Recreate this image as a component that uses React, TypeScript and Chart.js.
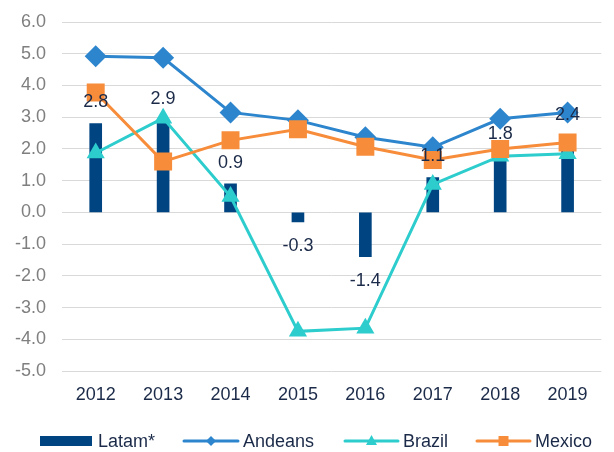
import React, { useEffect, useRef } from "react";
import { Chart, registerables } from "chart.js";

Chart.register(...registerables);

const categories = ["2012", "2013", "2014", "2015", "2016", "2017", "2018", "2019"];
const latam = [2.8, 2.9, 0.9, -0.3, -1.4, 1.1, 1.8, 2.4];
const andeans = [4.92, 4.87, 3.15, 2.9, 2.37, 2.05, 2.95, 3.15];
const brazil = [1.87, 2.97, 0.5, -3.75, -3.65, 0.88, 1.77, 1.85];
const mexico = [3.78, 1.6, 2.27, 2.62, 2.07, 1.65, 2.0, 2.2];
const yMin = -5;
const yMax = 6;
const yStep = 1;

const NAVY = "#004481";
const BLUE = "#2D86CD";
const TEAL = "#2DCCCD";
const ORANGE = "#F78C3A";
const TEXT = "#1B2A48";
const FONT = "'Liberation Sans', Arial, sans-serif";

const labelPlugin = {
  id: "barLabels",
  afterDatasetsDraw(chart: any) {
    const meta = chart.getDatasetMeta(0);
    const ctx = chart.ctx;
    ctx.save();
    ctx.font = `18px ${FONT}`;
    ctx.fillStyle = TEXT;
    ctx.textAlign = "center";
    ctx.textBaseline = "middle";
    meta.data.forEach((el: any, i: number) => {
      const v = latam[i];
      const y = v >= 0 ? el.y - 21 : el.y + 24;
      ctx.fillText(v.toFixed(1), el.x, y);
    });
    ctx.restore();
  },
};

const legendPlugin = {
  id: "customLegend",
  afterDraw(chart: any) {
    const ctx = chart.ctx;
    const cy = 441;
    ctx.save();
    ctx.font = `18px ${FONT}`;
    ctx.textBaseline = "middle";
    ctx.textAlign = "left";
    ctx.fillStyle = NAVY;
    ctx.fillRect(40, cy - 5, 52, 10);
    ctx.fillStyle = TEXT;
    ctx.fillText("Latam*", 98, cy + 1);
    const lineItem = (x0: number, x1: number, color: string, marker: string, label: string, tx: number) => {
      ctx.strokeStyle = color;
      ctx.lineWidth = 3;
      ctx.lineCap = "round";
      ctx.beginPath();
      ctx.moveTo(x0, cy);
      ctx.lineTo(x1, cy);
      ctx.stroke();
      const mx = (x0 + x1) / 2;
      ctx.fillStyle = color;
      ctx.beginPath();
      if (marker === "diamond") {
        ctx.moveTo(mx - 5, cy);
        ctx.lineTo(mx, cy - 5);
        ctx.lineTo(mx + 5, cy);
        ctx.lineTo(mx, cy + 5);
      } else if (marker === "triangle") {
        ctx.moveTo(mx, cy - 6);
        ctx.lineTo(mx + 5.5, cy + 4);
        ctx.lineTo(mx - 5.5, cy + 4);
      } else {
        ctx.rect(mx - 5, cy - 5, 10, 10);
      }
      ctx.closePath();
      ctx.fill();
      ctx.fillStyle = TEXT;
      ctx.fillText(label, tx, cy + 1);
    };
    lineItem(184, 238, BLUE, "diamond", "Andeans", 243);
    lineItem(345, 398, TEAL, "triangle", "Brazil", 403);
    lineItem(477, 530, ORANGE, "square", "Mexico", 535);
    ctx.restore();
  },
};

export default function App() {
  const ref = useRef<HTMLCanvasElement | null>(null);
  useEffect(() => {
    if (!ref.current) return;
    const chart = new Chart(ref.current, {
      type: "bar",
      data: {
        labels: categories,
        datasets: [
          {
            type: "bar",
            label: "Latam*",
            data: latam,
            backgroundColor: NAVY,
            barThickness: 12,
            order: 10,
          },
          {
            type: "line",
            label: "Andeans",
            data: andeans,
            borderColor: BLUE,
            backgroundColor: BLUE,
            borderWidth: 3,
            pointStyle: "rectRot",
            pointRadius: 11,
            pointBorderWidth: 0,
            tension: 0,
            order: 3,
          },
          {
            type: "line",
            label: "Brazil",
            data: brazil,
            borderColor: TEAL,
            backgroundColor: TEAL,
            borderWidth: 3,
            pointStyle: "triangle",
            pointRadius: 10.5,
            pointBorderWidth: 0,
            tension: 0,
            order: 2,
          },
          {
            type: "line",
            label: "Mexico",
            data: mexico,
            borderColor: ORANGE,
            backgroundColor: ORANGE,
            borderWidth: 3,
            pointStyle: "rect",
            pointRadius: 12.7,
            pointBorderWidth: 0,
            tension: 0,
            order: 1,
          },
        ] as any,
      },
      options: {
        responsive: false,
        animation: false,
        layout: { padding: { top: 22, left: 0, right: 0, bottom: 0 } },
        plugins: {
          legend: { display: false },
          tooltip: { enabled: false },
        },
        scales: {
          x: {
            offset: true,
            grid: { display: false },
            border: { display: false },
            ticks: { color: TEXT, font: { family: FONT, size: 18 }, padding: 5 },
            afterFit: (s: any) => {
              s.height = 81;
            },
          },
          y: {
            min: yMin,
            max: yMax,
            ticks: {
              stepSize: yStep,
              color: "#7F7F7F",
              font: { family: FONT, size: 18 },
              padding: 16,
              callback: (v: any) => Number(v).toFixed(1),
            },
            grid: { color: "#D9D9D9", lineWidth: 1, drawTicks: false },
            border: { display: false },
            afterFit: (s: any) => {
              s.width = 62;
              s.paddingTop = 0;
              s.paddingBottom = 0;
            },
          },
        },
      } as any,
      plugins: [labelPlugin, legendPlugin],
    });
    return () => chart.destroy();
  }, []);
  return (
    <div style={{ position: "fixed", left: 0, top: 0, width: 614, height: 452, background: "#fff" }}>
      <canvas ref={ref} width={614} height={452} />
    </div>
  );
}
